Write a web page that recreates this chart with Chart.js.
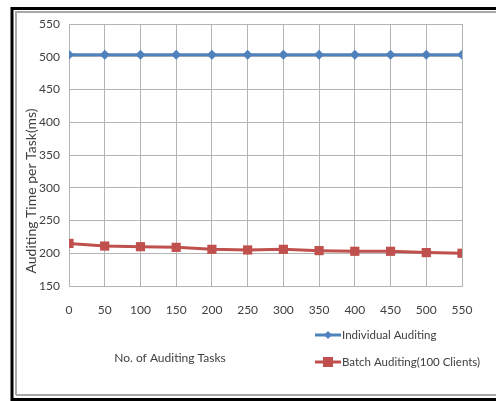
<!DOCTYPE html>
<html>
<head>
<meta charset="utf-8">
<script src="https://cdn.jsdelivr.net/npm/chart.js@4/dist/chart.umd.min.js"></script>
<style>
  html, body { margin: 0; padding: 0; background: #fff; }
  #wrap { width: 496px; height: 401px; }
</style>
</head>
<body>
<div id="wrap"><canvas id="chart" width="496" height="401"></canvas></div>
<script>
// Data
const tasks = [0, 50, 100, 150, 200, 250, 300, 350, 400, 450, 500, 550];
const individualTimes = [503, 503, 503, 503, 503, 503, 503, 503, 503, 503, 503, 503];
const batchTimes = [215, 211, 210, 209, 206, 205, 206, 204, 203, 203, 201, 200];
const seriesNames = ['Individual Auditing', 'Batch Auditing(100 Clients)'];
const xTitle = 'No. of Auditing Tasks';
const yTitle = 'Auditing Time per Task(ms)';

const blue = '#4F81BD';
const red = '#C0504D';
const textColor = '#404040';
const gridColor = '#b4b4b4';
const font = 'Lato, "Open Sans", sans-serif';

// Frame, axis titles and legend drawn around the plot
const decorPlugin = {
    id: 'decor',
    beforeDraw(chart) {
        const ctx = chart.ctx;
        ctx.save();
        ctx.fillStyle = '#fff';
        ctx.fillRect(0, 0, chart.width, chart.height);
        // outer black frame
        ctx.strokeStyle = '#000';
        ctx.lineWidth = 3;
        ctx.beginPath();
        ctx.moveTo(12, 401);
        ctx.lineTo(12, 8.5);
        ctx.lineTo(496, 8.5);
        ctx.moveTo(12, 399.5);
        ctx.lineTo(496, 399.5);
        ctx.stroke();
        // inner gray frame
        ctx.strokeStyle = '#a8a8a8';
        ctx.lineWidth = 2;
        ctx.beginPath();
        ctx.moveTo(16, 395);
        ctx.lineTo(16, 12);
        ctx.lineTo(496, 12);
        ctx.moveTo(16, 395);
        ctx.lineTo(496, 395);
        ctx.stroke();
        ctx.restore();
    },
    afterDraw(chart) {
        const ctx = chart.ctx;
        ctx.save();
        ctx.fillStyle = textColor;
        ctx.textBaseline = 'middle';
        // x title
        ctx.font = '12px ' + font;
        ctx.textAlign = 'center';
        ctx.fillText(xTitle, 170, 358);
        // y title
        ctx.save();
        ctx.font = '14px ' + font;
        ctx.translate(31, 191);
        ctx.rotate(-Math.PI / 2);
        ctx.fillText(yTitle, 0, 0);
        ctx.restore();
        // legend
        ctx.font = '11.5px ' + font;
        const rows = [335, 362];
        chart.data.datasets.forEach((ds, i) => {
            const y = rows[i];
            ctx.strokeStyle = ds.borderColor;
            ctx.lineWidth = 3;
            ctx.beginPath();
            ctx.moveTo(315, y);
            ctx.lineTo(341, y);
            ctx.stroke();
            ctx.fillStyle = ds.backgroundColor;
            if (ds.pointStyle === 'rectRot') {
                ctx.beginPath();
                ctx.moveTo(328, y - 4);
                ctx.lineTo(332, y);
                ctx.lineTo(328, y + 4);
                ctx.lineTo(324, y);
                ctx.closePath();
                ctx.fill();
            } else {
                ctx.fillRect(323, y - 5, 10, 10);
            }
            ctx.fillStyle = textColor;
            ctx.textAlign = 'left';
            ctx.fillText(ds.label, 342, y);
        });
        ctx.restore();
    }
};

const ctx = document.getElementById('chart').getContext('2d');
new Chart(ctx, {
    type: 'line',
    data: {
        datasets: [
            {
                label: seriesNames[0],
                data: tasks.map((t, i) => ({ x: t, y: individualTimes[i] })),
                borderColor: blue,
                backgroundColor: blue,
                borderWidth: 3,
                pointStyle: 'rectRot',
                pointRadius: 5,
                pointBorderWidth: 0
            },
            {
                label: seriesNames[1],
                data: tasks.map((t, i) => ({ x: t, y: batchTimes[i] })),
                borderColor: red,
                backgroundColor: red,
                borderWidth: 3,
                pointStyle: 'rect',
                pointRadius: 6.5,
                pointBorderWidth: 0
            }
        ]
    },
    options: {
        responsive: false,
        animation: false,
        layout: { padding: { left: 0, right: 34, top: 24, bottom: 0 } },
        plugins: {
            legend: { display: false },
            tooltip: { enabled: false }
        },
        scales: {
            x: {
                type: 'linear',
                min: 0,
                max: 550,
                afterFit(scale) { scale.height = 115; },
                grid: { color: gridColor, drawTicks: false },
                border: { color: gridColor },
                ticks: { stepSize: 50, padding: 17, color: textColor, font: { family: font, size: 12 } }
            },
            y: {
                min: 150,
                max: 550,
                afterFit(scale) { scale.width = 69; },
                grid: { color: gridColor, drawTicks: false },
                border: { color: gridColor },
                ticks: { stepSize: 50, padding: 9, color: textColor, font: { family: font, size: 12 } }
            }
        }
    },
    plugins: [decorPlugin]
});
</script>
</body>
</html>
